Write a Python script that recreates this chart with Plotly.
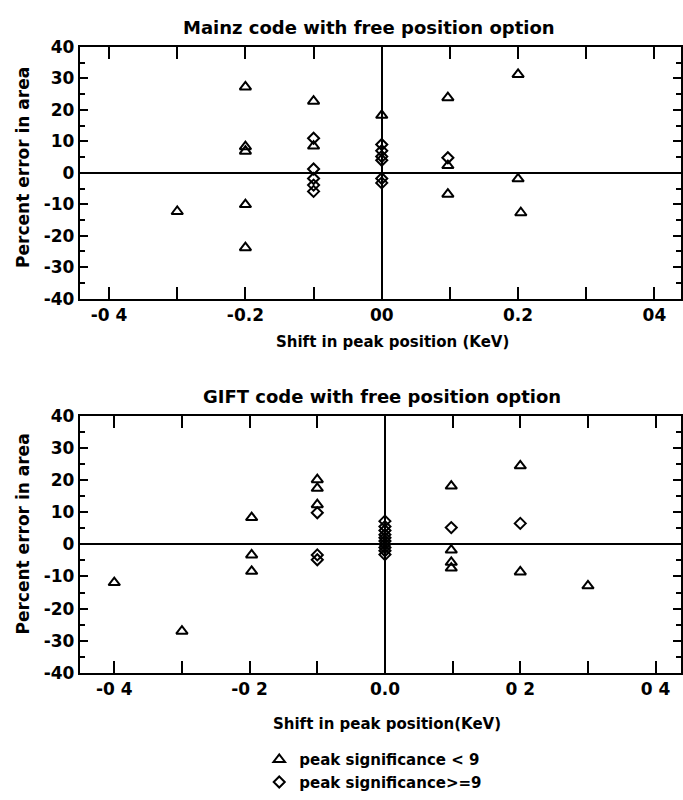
import plotly.graph_objects as go

# ---------------- data ----------------
# Mainz code (top panel)
mainz_low_x = [-0.3, -0.2, -0.2, -0.2, -0.2, -0.2, -0.1, -0.1, 0.0, 0.097, 0.097, 0.097, 0.2, 0.2, 0.204]
mainz_low_y = [-12.3, 27.3, 8.3, 6.9, -10.1, -23.8, 22.8, 8.5, 18.3, 23.9, 2.3, -6.8, 31.3, -1.9, -12.7]
mainz_high_x = [-0.1, -0.1, -0.1, -0.1, -0.1, 0.0, 0.0, 0.0, 0.0, 0.0, 0.0, 0.097]
mainz_high_y = [11.0, 1.2, -1.8, -3.9, -5.9, 9.0, 7.0, 5.2, 4.0, -1.8, -3.2, 4.8]

# GIFT code (bottom panel)
gift_low_x = [-0.4, -0.3, -0.197, -0.197, -0.197, -0.1, -0.1, -0.1, 0.098, 0.098, 0.098, 0.098, 0.2, 0.2, 0.3]
gift_low_y = [-11.9, -27.0, 8.3, -3.3, -8.4, 20.1, 17.4, 12.3, 18.1, -1.8, -5.6, -7.4, 24.4, -8.6, -12.9]
gift_high_x = [-0.1, -0.1, -0.1, 0.0, 0.0, 0.0, 0.0, 0.0, 0.0, 0.0, 0.0, 0.0, 0.0, 0.098, 0.2]
gift_high_y = [9.8, -3.3, -4.8, 7.2, 5.5, 4.3, 3.0, 2.0, 1.0, 0.0, -1.0, -2.0, -3.2, 5.2, 6.5]

x_tickvals = [-0.4, -0.3, -0.2, -0.1, 0.0, 0.1, 0.2, 0.3, 0.4]
top_ticktext = ["-0 4", "", "-0.2", "", "00", "", "0.2", "", "04"]
bot_ticktext = ["-0 4", "", "-0 2", "", "0.0", "", "0 2", "", "0 4"]
y_tickvals = [40, 30, 20, 10, 0, -10, -20, -30, -40]
y_ticktext = ["40", "30", "20", "10", "0", "-10", "-20", "-30", "-40"]

top_title = "Mainz code with free position option"
bot_title = "GIFT code with free position option"
top_xtitle = "Shift in peak position (KeV)"
bot_xtitle = "Shift in peak position(KeV)"
y_title = "Percent error in area"
legend_low = "peak significance < 9"
legend_high = "peak significance>=9"

FONT = "DejaVu Sans"
W, H = 683, 800

tri = dict(symbol="triangle-up-open", size=10, color="black", line=dict(width=2, color="black"))
dia = dict(symbol="diamond-open", size=8.5, color="black", line=dict(width=2, color="black"))

fig = go.Figure()
fig.add_trace(go.Scatter(x=mainz_low_x, y=mainz_low_y, mode="markers", marker=tri,
                         xaxis="x", yaxis="y", name=legend_low, showlegend=True, legendrank=1))
fig.add_trace(go.Scatter(x=mainz_high_x, y=mainz_high_y, mode="markers", marker=dia,
                         xaxis="x", yaxis="y", name=legend_high, showlegend=True, legendrank=2))
fig.add_trace(go.Scatter(x=gift_low_x, y=gift_low_y, mode="markers", marker=tri,
                         xaxis="x2", yaxis="y2", showlegend=False))
fig.add_trace(go.Scatter(x=gift_high_x, y=gift_high_y, mode="markers", marker=dia,
                         xaxis="x2", yaxis="y2", showlegend=False))

xdom = [80 / W, 1.0]
top_dom = [1 - 296 / H, 1 - 38 / H]
bot_dom = [1 - 680 / H, 1 - 416 / H]

tickfont = dict(family=FONT, size=17, color="black", weight="bold")

def xaxis(domain_anchor, rng, ticktext):
    return dict(domain=xdom, anchor=domain_anchor, range=rng,
                tickmode="array", tickvals=x_tickvals, ticktext=ticktext,
                ticks="inside", ticklen=12, tickwidth=2, tickcolor="black",
                showline=True, linewidth=2, linecolor="black", mirror="ticks",
                showgrid=False, zeroline=True, zerolinecolor="black", zerolinewidth=1.5,
                tickfont=tickfont, fixedrange=True)

def yaxis(domain, anchor):
    return dict(domain=domain, anchor=anchor, range=[-40, 40],
                tickmode="array", tickvals=y_tickvals, ticktext=y_ticktext,
                ticks="inside", ticklen=8, tickwidth=2, tickcolor="black",
                minor=dict(tickmode="linear", tick0=0, dtick=5, ticks="inside",
                           ticklen=5, tickwidth=2, tickcolor="black", showgrid=False),
                showline=True, linewidth=2, linecolor="black", mirror="ticks",
                showgrid=False, zeroline=True, zerolinecolor="black", zerolinewidth=2,
                tickfont=tickfont, fixedrange=True)

fig.update_layout(
    width=W, height=H,
    margin=dict(l=0, r=0, t=0, b=0),
    paper_bgcolor="white", plot_bgcolor="white",
    font=dict(family=FONT, color="black"),
    xaxis=xaxis("y", [-0.443, 0.439], top_ticktext),
    yaxis=yaxis(top_dom, "x"),
    xaxis2=xaxis("y2", [-0.451, 0.4375], bot_ticktext),
    yaxis2=yaxis(bot_dom, "x2"),
    legend=dict(x=260 / W, y=1 - 752 / H, xanchor="left", yanchor="top",
                orientation="v", bgcolor="rgba(0,0,0,0)",
                font=dict(family=FONT, size=15, color="black", weight="bold"),
                itemwidth=30, tracegroupgap=0),
    showlegend=True,
)

def ann(text, x, y, size, angle=0):
    fig.add_annotation(text=text, x=x / W, y=1 - y / H, xref="paper", yref="paper",
                       showarrow=False, textangle=angle, xanchor="center", yanchor="middle",
                       font=dict(family=FONT, size=size, color="black", weight="bold"))

ann(top_title, 370, 18, 18)
ann(bot_title, 383, 396, 18)
ann(top_xtitle, 394, 340, 15)
ann(bot_xtitle, 388, 732, 15)
ann(y_title, 23, 161, 17, -90)
ann(y_title, 23, 537, 17, -90)

fig.write_html("out.html",
               config={"displayModeBar": False},
               post_script="document.body.style.margin='0px';document.body.style.overflow='hidden';")
